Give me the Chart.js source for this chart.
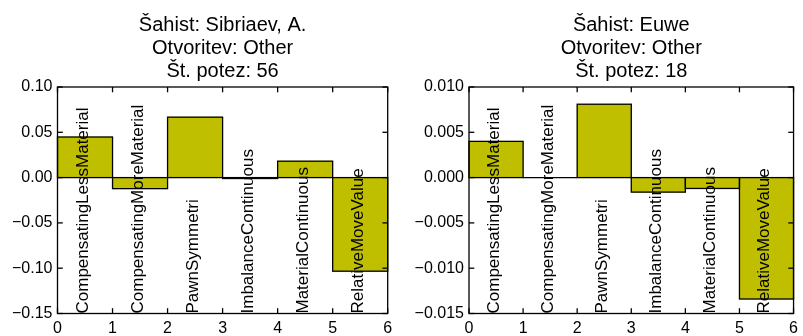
<!DOCTYPE html>
<html>
<head>
<meta charset="utf-8">
<script src="https://cdn.jsdelivr.net/npm/chart.js@4"></script>
<style>
  body { margin: 0; background: #fff; }
  .panel { position: absolute; top: 0; }
</style>
</head>
<body>
<div class="panel" style="left:0px"><canvas id="chartSibriaev" width="400" height="336"></canvas></div>
<div class="panel" style="left:400px"><canvas id="chartEuwe" width="403" height="336"></canvas></div>
<script>
// podatki
const categories = ['CompensatingLessMaterial', 'CompensatingMoreMaterial', 'PawnSymmetri',
  'ImbalanceContinuous', 'MaterialContinuous', 'RelativeMoveValue'];
const sibriaevValues = [0.0448, -0.0122, 0.0667, -0.001, 0.0181, -0.1033];
const euweValues = [0.004, 0, 0.0081, -0.0016, -0.0012, -0.0134];
const xTickValues = [0, 1, 2, 3, 4, 5, 6];
const sibriaevYTicks = [-0.15, -0.10, -0.05, 0.00, 0.05, 0.10];
const euweYTicks = [-0.015, -0.010, -0.005, 0.000, 0.005, 0.010];
const sibriaevTitle = ['Šahist: Sibriaev, A.', 'Otvoritev: Other', 'Št. potez: 56'];
const euweTitle = ['Šahist: Euwe', 'Otvoritev: Other', 'Št. potez: 18'];

Chart.defaults.font.family = '"Liberation Sans", Arial, sans-serif';
Chart.defaults.color = '#000';

const titleBaselines = [30.5, 53.5, 77];

const line = (ctx, x1, y1, x2, y2) => {
  ctx.beginPath();
  ctx.moveTo(x1, y1);
  ctx.lineTo(x2, y2);
  ctx.stroke();
};

// matplotlib look: robovi stolpcev, napisi, okvir, kljukice, naslov
const mplPlugin = {
  id: 'mpl',
  afterDatasetsDraw(chart, args, opts) {
    const ctx = chart.ctx;
    const area = chart.chartArea;
    const meta = chart.getDatasetMeta(0);
    ctx.save();
    ctx.strokeStyle = '#000';
    ctx.lineWidth = 1.3;
    meta.data.forEach((bar) => {
      const p = bar.getProps(['x', 'y', 'base', 'width'], true);
      ctx.strokeRect(p.x - p.width / 2, Math.min(p.y, p.base), p.width, Math.abs(p.base - p.y));
    });

    ctx.fillStyle = '#000';
    ctx.font = '17px "Liberation Sans"';
    ctx.textAlign = 'left';
    ctx.textBaseline = 'middle';
    categories.forEach((c, i) => {
      const x = chart.scales.x.getPixelForValue(i) - 2;
      ctx.save();
      ctx.translate(x, area.bottom);
      ctx.rotate(-Math.PI / 2);
      ctx.fillText(c, 0, 0);
      ctx.restore();
    });

    ctx.strokeRect(area.left, area.top, area.right - area.left, area.bottom - area.top);

    const tl = 5.3;
    chart.scales.y.ticks.forEach((t) => {
      const y = chart.scales.y.getPixelForValue(t.value);
      line(ctx, area.left, y, area.left + tl, y);
      line(ctx, area.right, y, area.right - tl, y);
    });
    chart.scales.xTicks.ticks.forEach((t) => {
      const x = chart.scales.xTicks.getPixelForValue(t.value);
      line(ctx, x, area.bottom, x, area.bottom - tl);
      line(ctx, x, area.top, x, area.top + tl);
    });

    ctx.font = '20px "Liberation Sans"';
    ctx.textAlign = 'center';
    ctx.textBaseline = 'alphabetic';
    const cx = (area.left + area.right) / 2;
    opts.title.forEach((t, i) => ctx.fillText(t, cx, titleBaselines[i]));
    ctx.restore();
  }
};

function makeChart(id, title, values, yTicks, decimals, yAxisWidth, padRight) {
  new Chart(document.getElementById(id), {
    type: 'bar',
    data: {
      labels: categories,
      datasets: [{
        data: values,
        backgroundColor: '#bfbf00',
        borderWidth: 0,
        barPercentage: 1,
        categoryPercentage: 1,
      }],
    },
    options: {
      responsive: false,
      animation: false,
      layout: { padding: { top: 87, right: padRight, left: 0, bottom: 0 } },
      plugins: {
        legend: { display: false },
        tooltip: { enabled: false },
        mpl: { title: title },
      },
      scales: {
        x: { display: false },
        xTicks: {
          type: 'linear',
          position: 'bottom',
          offset: false,
          min: 0,
          max: 6,
          afterBuildTicks: (s) => { s.ticks = xTickValues.map((v) => ({ value: v })); },
          afterFit: (s) => { s.height = 22.5; },
          grid: { display: false, drawTicks: false, offset: false },
          border: { display: false },
          ticks: { padding: 5, font: { size: 16 }, maxRotation: 0, callback: (v) => String(v) },
        },
        y: {
          min: yTicks[0],
          max: yTicks[yTicks.length - 1],
          afterBuildTicks: (s) => { s.ticks = yTicks.map((v) => ({ value: v })); },
          afterFit: (s) => { s.width = yAxisWidth; },
          grid: { display: false, drawTicks: false },
          border: { display: false },
          ticks: {
            padding: 5,
            font: { size: 16 },
            callback: (v) => v.toFixed(decimals).replace('-', '\u2212'),
          },
        },
      },
    },
    plugins: [mplPlugin],
  });
}

makeChart('chartSibriaev', sibriaevTitle, sibriaevValues, sibriaevYTicks, 2, 57.5, 12.3);
makeChart('chartEuwe', euweTitle, euweValues, euweYTicks, 3, 69, 4.7);
</script>
</body>
</html>
